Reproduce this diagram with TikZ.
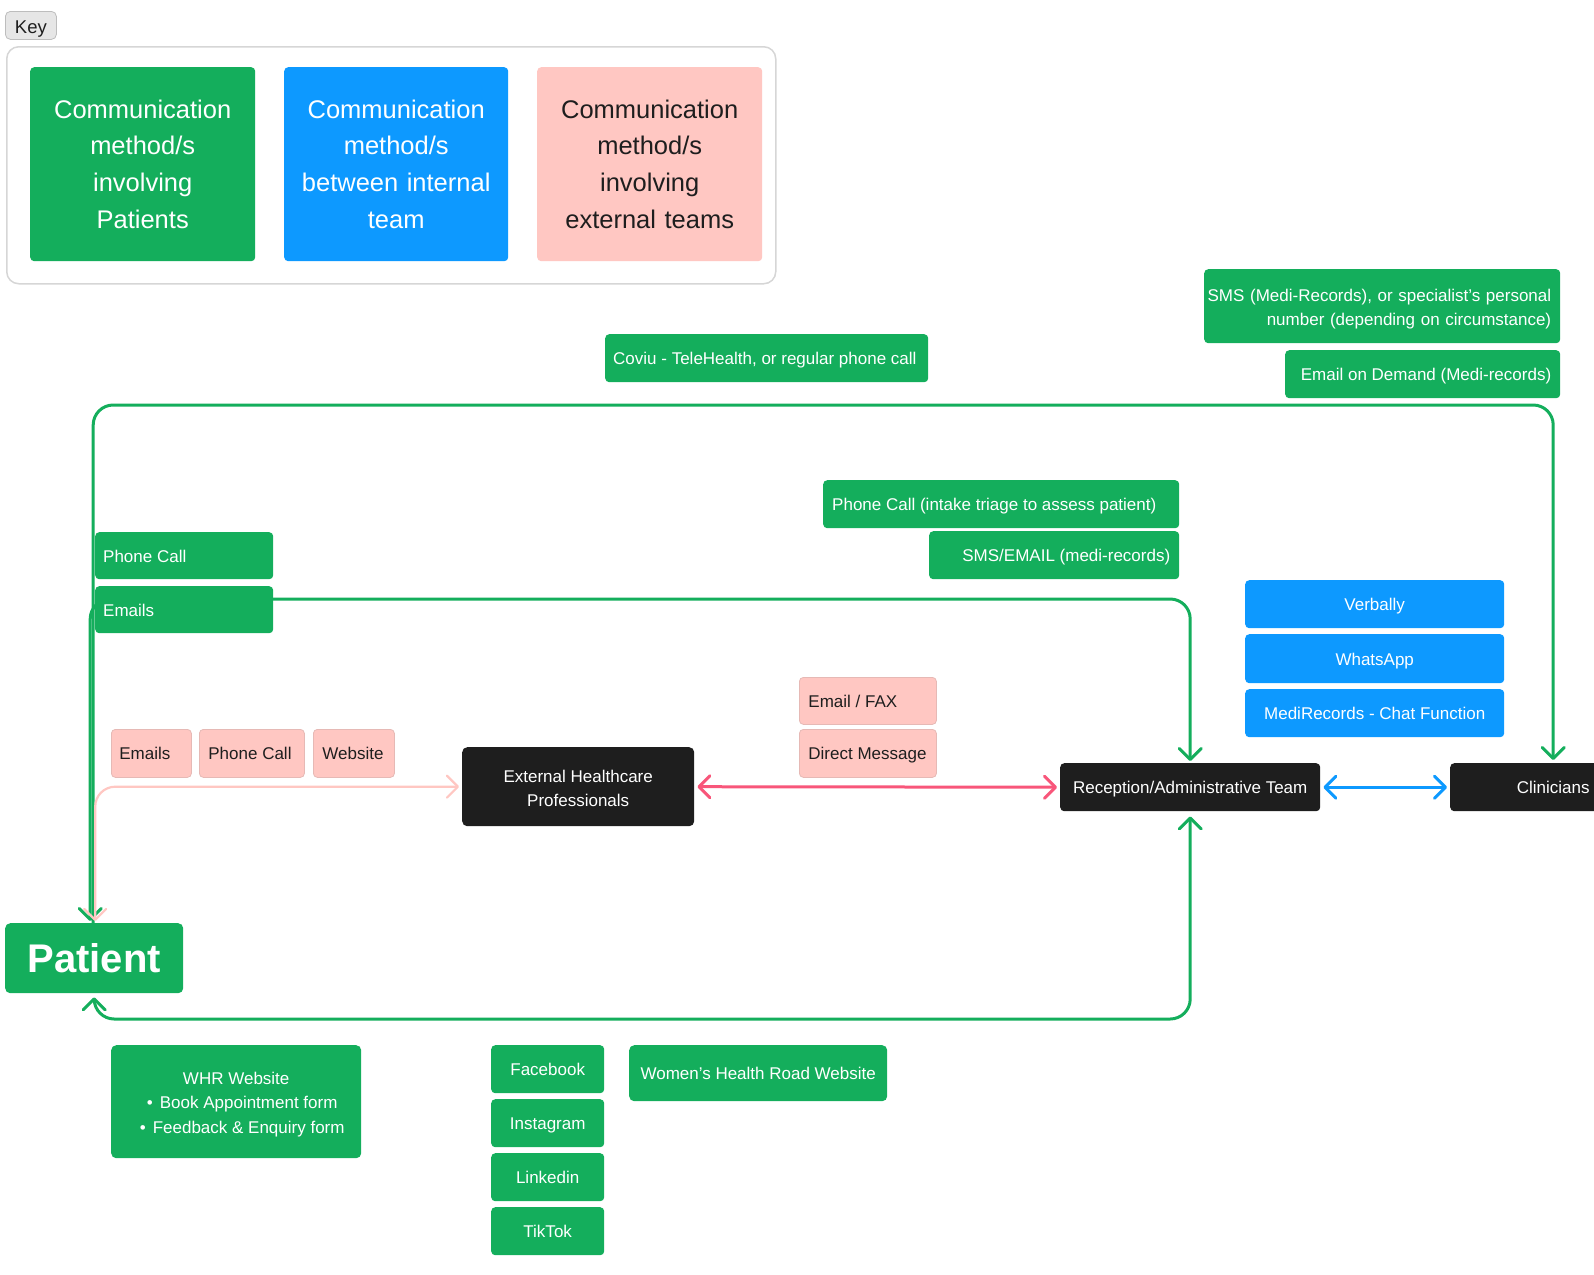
\documentclass[tikz,border=0pt]{standalone}
\usepackage{fontspec}
\setmainfont{Liberation Sans}
\usetikzlibrary{arrows.meta}
\pgfdeclarelayer{bg}
\pgfsetlayers{bg,main}
\definecolor{cgreen}{HTML}{14AE5C}
\definecolor{cblue}{HTML}{0D99FF}
\definecolor{cpink}{HTML}{FFC7C2}
\definecolor{cpinkedge}{HTML}{E6B9B5}
\definecolor{cdark}{HTML}{1E1E1E}
\definecolor{chot}{HTML}{F8567A}
\definecolor{cframe}{HTML}{D6D6D6}
\definecolor{ctag}{HTML}{E6E6E6}
\definecolor{ctagedge}{HTML}{BDBDBD}
\newcommand\LT[2]{\makebox[#1][l]{#2}}
\newcommand\RT[2]{\makebox[#1][r]{#2}}
\begin{document}
\begin{tikzpicture}[x=1pt,y=-1pt,
  >={Straight Barb[length=11pt,width=22pt,round]},
  base/.style={rounded corners=4pt, inner sep=0pt, anchor=north west},
  gbox/.style={base, fill=cgreen, text=white},
  bbox/.style={base, fill=cblue, text=white},
  pbox/.style={base, fill=cpink, draw=cpinkedge, line width=0.8pt, text=cdark},
  dbox/.style={base, fill=cdark, text=white},
  sm/.style={font=\fontsize{17}{24}\selectfont, text height=15pt, text depth=2pt},
  ml/.style={font=\fontsize{17}{24.3}\selectfont},
  kt/.style={font=\fontsize{25.5}{36.7}\selectfont, align=center, text width=215pt},
  gl/.style={draw=cgreen, line width=3pt, rounded corners=20pt, line join=round, line cap=round},
  pl/.style={draw=cpink, line width=2.2pt, rounded corners=20pt, line join=round},
  hl/.style={draw=chot, line width=3pt},
  bl/.style={draw=cblue, line width=3pt}
]
\useasboundingbox (0,0) rectangle (1594,1274);

% ---------- key ----------
\node[base, fill=ctag, draw=ctagedge, line width=0.8pt, rounded corners=5pt,
      minimum width=51pt, minimum height=28pt, font=\fontsize{18.5}{20}\selectfont,
      text height=19pt, text depth=2.7pt, text=cdark] (keytag) at (5,11) {Key};
\node[base, fill=white, draw=cframe, line width=1.5pt, rounded corners=12pt,
      minimum width=769pt, minimum height=237pt] (keyframe) at (6,46) {};
\node[gbox, kt, minimum width=225pt, minimum height=194pt] (k1) at (30,67) {Communication\\method/s\\involving\\Patients};
\node[bbox, kt, minimum width=224pt, minimum height=194pt] (k2) at (284,67) {Communication\\method/s\\between internal\\team};
\node[base, fill=cpink, text=cdark, kt, minimum width=225pt, minimum height=194pt] (k3) at (537,67) {Communication\\method/s\\involving\\external teams};

% ---------- green labels (top) ----------
\node[gbox, ml, minimum width=356pt, minimum height=74pt, align=right, text width=338pt] (smsrec) at (1204,269)
  {\rule{0pt}{18.5pt}\RT{338pt}{SMS (Medi-Records), or specialist’s personal}\\\RT{338pt}{number (depending on circumstance)}};
\node[gbox, sm, minimum width=275pt, minimum height=48pt] (eod) at (1285,350) {\RT{257pt}{Email on Demand (Medi-records)}};
\node[gbox, sm, minimum width=323pt, minimum height=48pt] (coviu) at (605,334) {\LT{307pt}{Coviu - TeleHealth, or regular phone call}};
\node[gbox, sm, minimum width=356pt, minimum height=48pt] (intake) at (823,480) {\LT{338pt}{Phone Call (intake triage to assess patient)}};
\node[gbox, sm, minimum width=250pt, minimum height=48pt] (smsemail) at (929,531) {\RT{232pt}{SMS/EMAIL (medi-records)}};
\node[gbox, sm, minimum width=178pt, minimum height=47pt] (phoneL) at (95,532) {\LT{162pt}{Phone Call}};
\node[gbox, sm, minimum width=178pt, minimum height=47pt] (emailsL) at (95,586) {\LT{162pt}{Emails}};

% ---------- pink labels ----------
\node[pbox, sm, minimum width=80pt, minimum height=48pt] (pemails) at (111,729) {\LT{64pt}{Emails}};
\node[pbox, sm, minimum width=105pt, minimum height=48pt] (pphone) at (199,729) {\LT{87pt}{Phone Call}};
\node[pbox, sm, minimum width=81pt, minimum height=48pt] (pweb) at (313,729) {\LT{63pt}{Website}};
\node[pbox, sm, minimum width=137pt, minimum height=47pt] (pfax) at (799,677) {\LT{119pt}{Email / FAX}};
\node[pbox, sm, minimum width=137pt, minimum height=48pt] (pdm) at (799,729) {\LT{119pt}{Direct Message}};

% ---------- blue labels ----------
\node[bbox, sm, minimum width=259pt, minimum height=48pt] (verb) at (1245,580) {Verbally};
\node[bbox, sm, minimum width=259pt, minimum height=49pt] (whats) at (1245,634) {WhatsApp};
\node[bbox, sm, minimum width=259pt, minimum height=48pt] (chat) at (1245,689) {MediRecords - Chat Function};

% ---------- main nodes ----------
\node[dbox, ml, align=center, minimum width=232pt, minimum height=79pt, rounded corners=5pt] (ehp) at (462,747) {\rule{0pt}{15.5pt}External Healthcare\\Professionals};
\node[dbox, sm, minimum width=260pt, minimum height=48pt] (recep) at (1060,763) {Reception/Administrative Team};
\node[dbox, sm, minimum width=206pt, minimum height=48pt] (clin) at (1450,763) {Clinicians};
\node[gbox, minimum width=178pt, minimum height=70pt, rounded corners=5pt,
      font=\fontsize{40}{44}\selectfont\bfseries] (patient) at (5,923) {Patient};

% ---------- bottom labels ----------
\node[gbox, ml, align=center, minimum width=250pt, minimum height=113pt, rounded corners=5pt] (whr) at (111,1045)
  {\rule{0pt}{17.5pt}WHR Website\\\hspace*{12pt}•\hspace{7pt}Book Appointment form\\\hspace*{12pt}•\hspace{7pt}Feedback \& Enquiry form};
\node[gbox, sm, minimum width=113pt, minimum height=48pt] (fb) at (491,1045) {Facebook};
\node[gbox, sm, minimum width=113pt, minimum height=48pt] (ig) at (491,1099) {Instagram};
\node[gbox, sm, minimum width=113pt, minimum height=48pt] (li) at (491,1153) {Linkedin};
\node[gbox, sm, minimum width=113pt, minimum height=48pt] (tt) at (491,1207) {TikTok};
\node[gbox, sm, minimum width=258pt, minimum height=56pt, rounded corners=5pt] (whrweb) at (629,1045) {Women’s Health Road Website};

% ---------- connectors ----------
\begin{pgfonlayer}{bg}
  % top loop patient -> clinicians
  \draw[gl, ->, shorten >=3pt] ([xshift=-1pt]patient.north) -- ([xshift=-1pt]patient.north |- 0,405)
     -- (clin.north |- 0,405) -- (clin.north);
  % emails loop patient <-> reception
  \draw[gl, <->, shorten <=2pt, shorten >=2pt] ([xshift=-4pt]patient.north) -- ([xshift=-4pt]patient.north |- 0,599)
     -- (recep.north |- 0,599) -- (recep.north);
  % pink patient <-> external
  \draw[pl, <->, shorten <=2pt, shorten >=3pt] ([xshift=1pt]patient.north) -- ([xshift=1pt]patient.north |- ehp.west) -- (ehp.west);
  % external <-> reception
  \draw[hl, <->, shorten <=3pt, shorten >=3pt] (ehp.east) -- (recep.west);
  % reception <-> clinicians
  \draw[bl, <->, shorten <=3pt, shorten >=3pt] (recep.east) -- (clin.west);
  % bottom loop patient <-> reception
  \draw[gl, <->, shorten <=4pt, shorten >=5pt] (patient.south) -- (patient.south |- 0,1019)
     -- (recep.south |- 0,1019) -- (recep.south);
\end{pgfonlayer}
\end{tikzpicture}
\end{document}
